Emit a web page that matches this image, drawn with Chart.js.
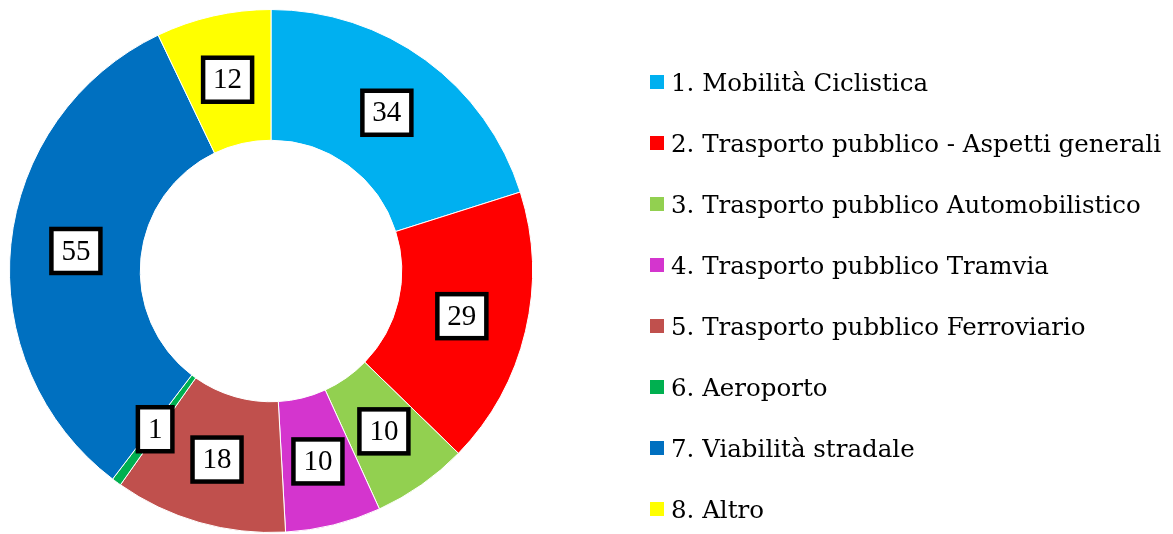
<!DOCTYPE html>
<html>
<head>
<meta charset="utf-8">
<script src="https://cdn.jsdelivr.net/npm/chart.js@4.4.1/dist/chart.umd.min.js"></script>
<style>
  html, body { margin: 0; padding: 0; background: #fff; }
  #wrap { width: 1173px; height: 534px; }
</style>
</head>
<body>
<div id="wrap"><canvas id="myChart" width="1173" height="534"></canvas></div>
<script>
// categories and values
const categories = [
    "1. Mobilità Ciclistica",
    "2. Trasporto pubblico - Aspetti generali",
    "3. Trasporto pubblico Automobilistico",
    "4. Trasporto pubblico Tramvia",
    "5. Trasporto pubblico Ferroviario",
    "6. Aeroporto",
    "7. Viabilità stradale",
    "8. Altro"
];
const counts = [34, 29, 10, 10, 18, 1, 55, 12];
const sliceColors = ["#00B0F0", "#FF0000", "#92D050", "#D435CE", "#C0504D", "#00B050", "#0070C0", "#FFFF00"];

const FONT = "'Liberation Serif', serif";
const LEGEND_FONT = "'DejaVu Serif', serif";

// white boxed value labels in the middle of each ring segment
const boxLabels = {
    id: "boxLabels",
    afterDatasetsDraw(chart) {
        const ctx = chart.ctx;
        const meta = chart.getDatasetMeta(0);
        ctx.save();
        ctx.font = "29px " + FONT;
        ctx.textAlign = "center";
        ctx.textBaseline = "middle";
        meta.data.forEach(function (arc, i) {
            const p = arc.getCenterPoint();
            const txt = String(chart.data.datasets[0].data[i]);
            const w = ctx.measureText(txt).width + 20;
            const h = 44;
            ctx.fillStyle = "#fff";
            ctx.fillRect(p.x - w / 2, p.y - h / 2, w, h);
            ctx.lineWidth = 4.5;
            ctx.strokeStyle = "#000";
            ctx.strokeRect(p.x - w / 2, p.y - h / 2, w, h);
            ctx.fillStyle = "#000";
            ctx.fillText(txt, p.x, p.y + 1);
        });
        ctx.restore();
    }
};

// legend on the right, one row per category
const sideLegend = {
    id: "sideLegend",
    afterDraw(chart) {
        const ctx = chart.ctx;
        const ds = chart.data.datasets[0];
        ctx.save();
        ctx.font = "24.5px " + LEGEND_FONT;
        ctx.textAlign = "left";
        ctx.textBaseline = "alphabetic";
        chart.data.labels.forEach(function (lab, i) {
            const y = 91 + i * 61;
            ctx.fillStyle = ds.backgroundColor[i];
            ctx.fillRect(650, y - 16, 14, 14);
            ctx.fillStyle = "#000";
            ctx.fillText(lab, 671, y);
        });
        ctx.restore();
    }
};

new Chart(document.getElementById("myChart"), {
    type: "doughnut",
    data: {
        labels: categories,
        datasets: [{
            data: counts,
            backgroundColor: sliceColors,
            borderColor: "#fff",
            borderWidth: 1
        }]
    },
    options: {
        responsive: false,
        animation: false,
        cutout: "50%",
        layout: { padding: { left: 9, top: 9, right: 640, bottom: 1 } },
        plugins: {
            legend: { display: false },
            tooltip: { enabled: false }
        }
    },
    plugins: [boxLabels, sideLegend]
});
</script>
</body>
</html>
